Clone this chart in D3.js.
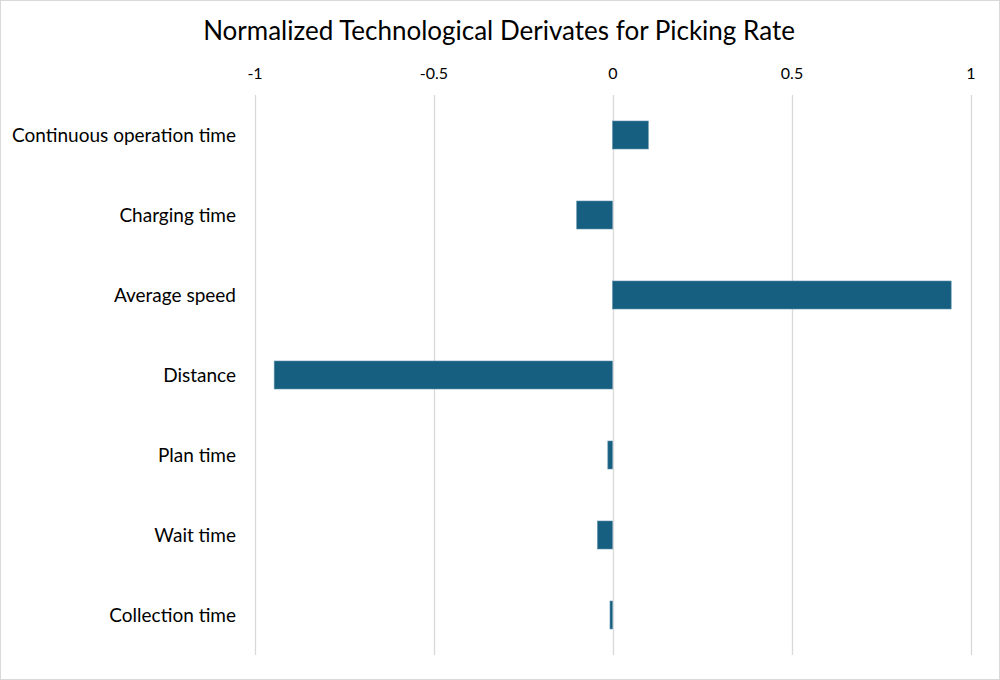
<!DOCTYPE html>
<html><head><meta charset="utf-8">
<script src="https://cdn.jsdelivr.net/npm/d3@7"></script>
<style>body{margin:0;background:#fff}svg{display:block}</style>
</head><body>
<svg id="c" width="1000" height="680"></svg>
<script>
const categories = ["Continuous operation time","Charging time","Average speed","Distance","Plan time","Wait time","Collection time"];
const values = [0.10, -0.10, 0.946, -0.945, -0.013, -0.042, -0.007];
const tickValues = [-1, -0.5, 0, 0.5, 1];
const tickLabels = ["-1", "-0.5", "0", "0.5", "1"];
const title = "Normalized Technological Derivates for Picking Rate";

const svg = d3.select("#c");
const font = "Lato, 'Open Sans', sans-serif";
svg.append("rect").attr("x",0.5).attr("y",0.5).attr("width",999).attr("height",679)
  .attr("fill","#fff").attr("stroke","#d9d9d9");

const x = d3.scaleLinear().domain([-1,1]).range([254.5,970.5]);
const y = d3.scaleBand().domain(categories).range([95,655]).paddingInner(0.65).paddingOuter(0.325);

svg.append("text").attr("x",499).attr("y",40).attr("text-anchor","middle")
  .attr("font-family",font).attr("font-size",26).attr("fill","#000").text(title);

const g = svg.append("g");
g.selectAll("line.grid").data(tickValues).join("line").attr("class","grid")
  .attr("x1",d=>Math.round(x(d))+0.5).attr("x2",d=>Math.round(x(d))+0.5)
  .attr("y1",95).attr("y2",655).attr("stroke","#d9d9d9").attr("stroke-width",1.3);

const xAxis = d3.axisTop(x).tickValues(tickValues).tickFormat((d,i)=>tickLabels[i]).tickSize(0).tickPadding(0);
const ax = svg.append("g").attr("transform","translate(0,79)").call(xAxis);
ax.select(".domain").remove();
ax.selectAll("text").attr("font-family",font).attr("font-size",16).attr("fill","#000");

g.selectAll("rect.bar").data(values).join("rect").attr("class","bar")
  .attr("x",d=>x(Math.min(0,d)))
  .attr("width",d=>Math.abs(x(d)-x(0)))
  .attr("y",(d,i)=>y(categories[i]))
  .attr("height",y.bandwidth())
  .attr("fill","#175f81").attr("stroke","#5d8fa8").attr("stroke-width",0.6);

svg.selectAll("text.cat").data(categories).join("text").attr("class","cat")
  .attr("x",236).attr("y",d=>y(d)+y.bandwidth()/2).attr("dy","0.35em")
  .attr("text-anchor","end").attr("font-family",font).attr("font-size",19).attr("fill","#000")
  .text(d=>d);
</script>
</body></html>
